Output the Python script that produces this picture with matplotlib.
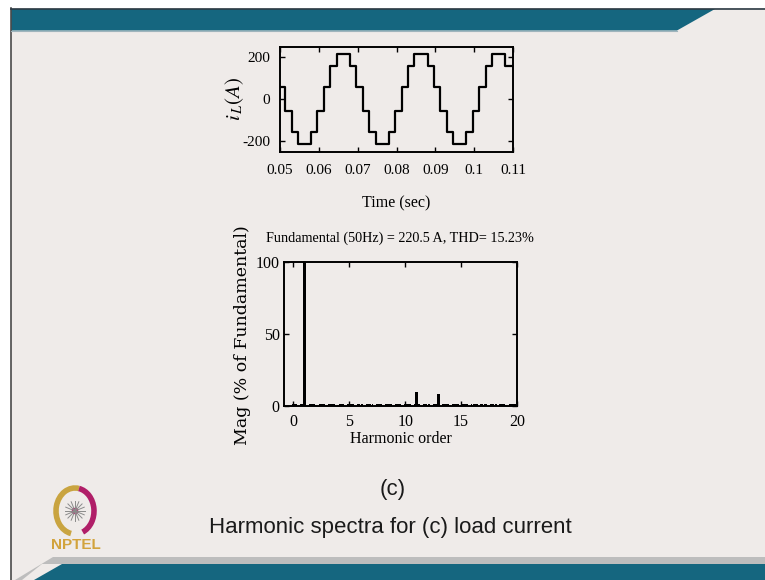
import numpy as np
import matplotlib
matplotlib.use("Agg")
import matplotlib.pyplot as plt
from matplotlib.patches import Polygon, Rectangle, Arc, Circle

# ---------------- data ----------------
# load current i_L: staircase, each entry = (switching time, new level)
step_times = [0.0500, 0.0513, 0.0530, 0.0546, 0.0580, 0.0596,
              0.0613, 0.0630, 0.0646, 0.0680, 0.0696,
              0.0713, 0.0730, 0.0746, 0.0780, 0.0796,
              0.0813, 0.0830, 0.0846, 0.0880, 0.0896,
              0.0913, 0.0930, 0.0946, 0.0980, 0.0996,
              0.1013, 0.1030, 0.1046, 0.1080, 0.1100]
step_levels = [58, -58, -158, -215, -158, -58,
               58, 158, 215, 158, 58,
               -58, -158, -215, -158, -58,
               58, 158, 215, 158, 58,
               -58, -158, -215, -158, -58,
               58, 158, 215, 158, 158]
time_ticks = [0.05, 0.06, 0.07, 0.08, 0.09, 0.10, 0.11]
time_tick_labels = ["0.05", "0.06", "0.07", "0.08", "0.09", "0.1", "0.11"]
current_ticks = [-200, 0, 200]

# harmonic spectrum (% of fundamental) at integer orders 0..20
harmonic_order = list(range(0, 21))
harmonic_mag = [0.9, 100, 0.6, 0.6, 0.6, 0.6, 0.6, 0.6, 0.6, 0.6, 0.7,
                9.3, 0.8, 8.2, 0.6, 0.7, 0.6, 0.6, 0.6, 0.6, 0.6]
# small inter-harmonic leakage floor (dotted texture along the base)
interharmonic_order = [round(0.1 * k, 1) for k in range(0, 201) if k % 10 != 0]
interharmonic_mag = 1.0
harm_ticks = [0, 5, 10, 15, 20]
mag_ticks = [0, 50, 100]

title_text = "Fundamental (50Hz) = 220.5 A, THD= 15.23%"

# ---------------- style ----------------
W, H = 765, 580
SLIDE = "#efebe9"
TEAL = "#15667f"
plt.rcParams["font.family"] = ["Liberation Serif", "DejaVu Serif"]
plt.rcParams["mathtext.fontset"] = "stix"
plt.rcParams["axes.unicode_minus"] = False

fig = plt.figure(figsize=(W / 100, H / 100), dpi=100)
fig.patch.set_facecolor("white")

# background slide drawn in pixel coordinates
bg = fig.add_axes([0, 0, 1, 1], zorder=-10)
bg.set_xlim(0, W)
bg.set_ylim(H, 0)
bg.axis("off")
bg.add_patch(Rectangle((11, 8), W - 11, H - 8, facecolor=SLIDE, edgecolor="none"))
bg.plot([11, 11], [8, H], color="#4a4a4a", lw=1.2)
bg.plot([11, W], [8.5, 8.5], color="#2c3a44", lw=1.2)
# top banner
bg.add_patch(Polygon([(11, 9), (715, 9), (677, 30.5), (11, 30.5)],
                     closed=True, facecolor=TEAL, edgecolor="none"))
bg.plot([11, 677], [31, 31], color="#9fb4bc", lw=0.8)
# bottom banner
bg.add_patch(Polygon([(53, 557), (W, 557), (W, 564), (42, 564), (22, H), (15, H)],
                     closed=True, facecolor="#bdbdbd", edgecolor="none"))
bg.add_patch(Polygon([(62, 564), (W, 564), (W, H), (34, H)],
                     closed=True, facecolor=TEAL, edgecolor="none"))

# NPTEL logo
cx, cy = 75, 511
bg.add_patch(Arc((cx, cy), 38, 46, theta1=100, theta2=280, color="#c9a440", lw=4))
bg.add_patch(Arc((cx, cy), 38, 46, theta1=280, theta2=430, color="#b01e68", lw=4))
for ang in np.deg2rad(np.arange(0, 180, 22.5)):
    dx, dy = 10 * np.cos(ang), 10 * np.sin(ang)
    bg.plot([cx - dx, cx + dx], [cy - dy, cy + dy], color="#8a8a8a", lw=0.7)
bg.add_patch(Circle((cx, cy), 2.5, color="#c2186a"))
bg.text(76, 545, "NPTEL", color="#d2a33c", fontsize=11, fontweight="bold",
        family=["Liberation Sans", "DejaVu Sans"], ha="center", va="center")

# slide texts
fig.text(393 / W, 1 - 490 / H, "(c)", family=["Liberation Sans", "DejaVu Sans"],
         fontsize=16, ha="center", va="center", color="#1a1a1a")
fig.text(390 / W, 1 - 527 / H, "Harmonic spectra for (c) load current",
         family=["Liberation Sans", "DejaVu Sans"], fontsize=16,
         ha="center", va="center", color="#1a1a1a")


def style_axes(ax, pad_x, pad_y, size):
    ax.set_facecolor(SLIDE)
    for sp in ax.spines.values():
        sp.set_linewidth(1.4)
        sp.set_color("black")
    ax.tick_params(direction="in", top=True, right=True, length=3.5,
                   width=1.0, labelsize=size, colors="black")
    ax.tick_params(axis="x", pad=pad_x)
    ax.tick_params(axis="y", pad=pad_y)


# ---------------- top plot: load current ----------------
ax1 = fig.add_axes([280 / W, 1 - 151.7 / H, 233 / W, 105.2 / H])
ax1.step(step_times, step_levels, where="post", color="black", lw=1.6)
ax1.set_xlim(0.05, 0.11)
ax1.set_ylim(-250, 250)
ax1.set_xticks(time_ticks)
ax1.set_xticklabels(time_tick_labels)
ax1.set_yticks(current_ticks)
style_axes(ax1, 9, 7, 11)
ax1.set_xlabel("Time (sec)", fontsize=11.5)
ax1.xaxis.label.set_va("center")
ax1.xaxis.set_label_coords(0.5, -0.49)
ax1.set_ylabel(r"$i_{\,L}(A)$", fontsize=15)
ax1.yaxis.label.set_va("center")
ax1.yaxis.set_label_coords(-0.193, 0.5)

# ---------------- bottom plot: harmonic spectrum ----------------
ax2 = fig.add_axes([284 / W, 1 - 405.7 / H, 233 / W, 143.7 / H])
ax2.bar(interharmonic_order, [interharmonic_mag] * len(interharmonic_order),
        width=0.07, color="black", linewidth=0)
ax2.bar(harmonic_order, harmonic_mag, width=0.25, color="black", linewidth=0)
ax2.set_xlim(-0.85, 20)
ax2.set_ylim(0, 100)
ax2.set_xticks(harm_ticks)
ax2.set_yticks(mag_ticks)
style_axes(ax2, 6, 3, 11.5)
ax2.set_xlabel("Harmonic order", fontsize=11.5)
ax2.xaxis.label.set_va("center")
ax2.xaxis.set_label_coords(0.5, -0.23)
ax2.set_ylabel("Mag (% of Fundamental)", fontsize=12.5,
               family=["DejaVu Serif"])
ax2.yaxis.label.set_va("center")
ax2.yaxis.set_label_coords(-0.176, 0.49)
fig.text(400 / W, 1 - 238 / H, title_text, fontsize=10.2,
         ha="center", va="center")

fig.savefig("out.png", dpi=100, facecolor=fig.get_facecolor())
